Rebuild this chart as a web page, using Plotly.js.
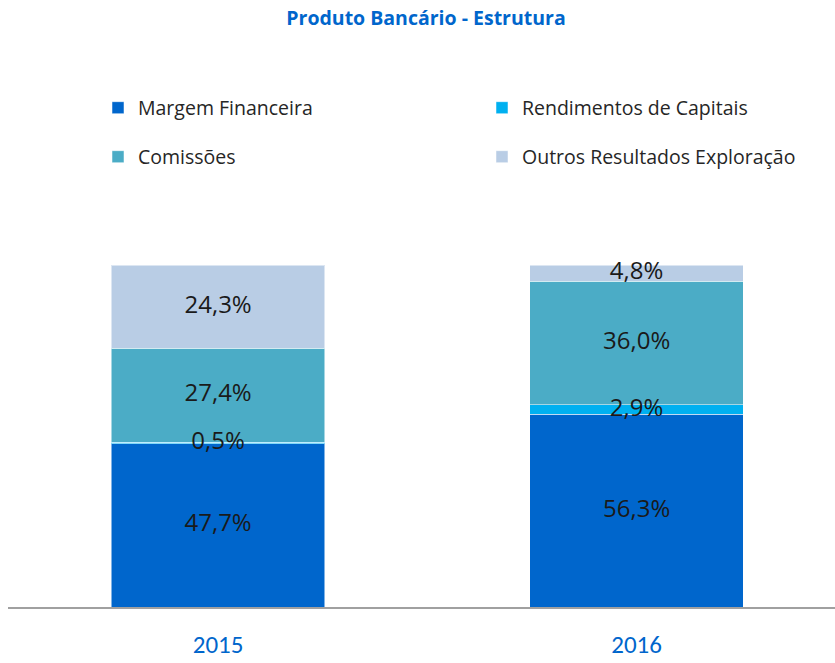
<!DOCTYPE html>
<html>
<head>
<meta charset="utf-8">
<script src="https://cdn.plot.ly/plotly-3.0.1.min.js"></script>
<style>html,body{margin:0;padding:0;background:#fff;}#chart{width:835px;height:663px;}</style>
</head>
<body>
<div id="chart"></div>
<script>
const years = ['2015', '2016'];
const seriesNames = ['Margem Financeira', 'Rendimentos de Capitais', 'Comissões', 'Outros Resultados Exploração'];
const margemFinanceira = [47.7, 56.3];
const rendimentosCapitais = [0.5, 2.9];
const comissoes = [27.4, 36.0];
const outrosResultados = [24.3, 4.8];

const colors = ['#0066CC', '#00B0F0', '#4BACC6', '#B9CDE5'];
const legendIds = ['legend', 'legend2', 'legend3', 'legend4'];
const values = [margemFinanceira, rendimentosCapitais, comissoes, outrosResultados];

const traces = values.map((v, i) => ({
  type: 'bar',
  name: seriesNames[i],
  x: years,
  y: v,
  width: 0.51,
  legend: legendIds[i],
  marker: {color: colors[i], line: {color: 'rgba(255,255,255,0.5)', width: 1}},
  hoverinfo: 'skip'
}));

// data labels drawn on top of all segments, at each segment's middle
const labelX = [], labelY = [], labelText = [];
years.forEach((yr, j) => {
  let base = 0;
  values.forEach(v => {
    labelX.push(yr);
    labelY.push(base + v[j] / 2);
    labelText.push(v[j].toFixed(1).replace('.', ',') + '%');
    base += v[j];
  });
});
traces.push({
  type: 'scatter', mode: 'text',
  x: labelX, y: labelY, text: labelText,
  textposition: 'middle center',
  textfont: {family: 'Open Sans, Noto Sans, sans-serif', size: 24, color: '#1a1a1a'},
  showlegend: false, hoverinfo: 'skip', cliponaxis: false
});

const legFont = {family: 'Open Sans, Noto Sans, sans-serif', size: 19.5, color: '#262626'};
function leg(x, y) {
  return {x: x, y: y, xanchor: 'left', yanchor: 'middle', xref: 'paper', yref: 'paper',
          font: legFont, bgcolor: 'rgba(0,0,0,0)', borderwidth: 0, orientation: 'v'};
}
const row1 = (607 - 108) / 342;
const row2 = (607 - 157) / 342;
const col1 = (98 - 8) / 827;
const col2 = (482 - 8) / 827;

const layout = {
  width: 835, height: 663,
  margin: {l: 8, r: 0, t: 265, b: 56},
  paper_bgcolor: '#ffffff', plot_bgcolor: '#ffffff',
  barmode: 'stack',
  bargap: 0,
  showlegend: true,
  title: {
    text: '<b>Produto Bancário - Estrutura</b>',
    font: {family: 'Open Sans, Noto Sans, sans-serif', size: 19.5, color: '#0066CC'},
    x: 426 / 835, xanchor: 'center', xref: 'container',
    y: 1 - 18 / 663, yanchor: 'middle', yref: 'container'
  },
  legend: leg(col1, row1),
  legend2: leg(col2, row1),
  legend3: leg(col1, row2),
  legend4: leg(col2, row2),
  xaxis: {
    type: 'category',
    range: [-0.502, 1.474],
    showline: true, linecolor: '#A0A0A0', linewidth: 2,
    showgrid: false, zeroline: false, ticks: '',
    tickfont: {family: 'Carlito, Open Sans, Noto Sans, sans-serif', size: 25, color: '#0066CC'},
    ticklabelstandoff: 14,
    fixedrange: true
  },
  yaxis: {range: [0, 100], visible: false, fixedrange: true}
};

Plotly.newPlot('chart', traces, layout, {displayModeBar: false, staticPlot: true});
</script>
</body>
</html>
